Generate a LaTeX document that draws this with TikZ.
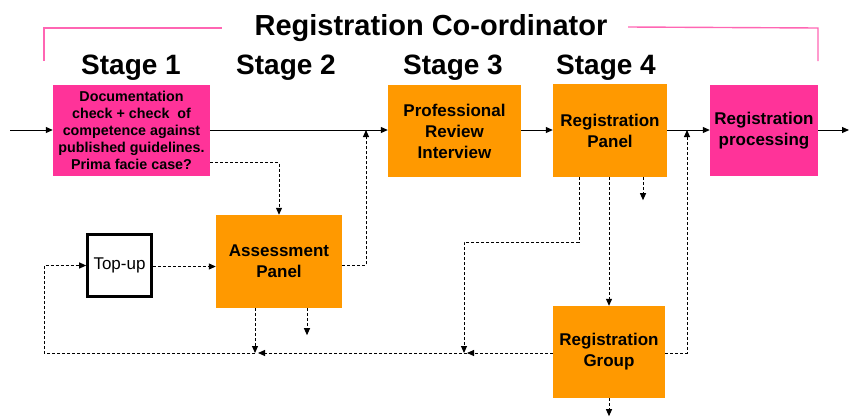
\documentclass[tikz,border=0pt]{standalone}
\usepackage{fontspec}
\setmainfont{Liberation Sans}
\usetikzlibrary{arrows.meta,calc}
\definecolor{stageorange}{HTML}{FF9900}
\definecolor{stagepink}{HTML}{FF3399}
\definecolor{bracketpink}{HTML}{FF66B3}

\begin{document}
\begin{tikzpicture} [x=1pt,y=-1pt,
  box/.style={inner sep=0pt,align=center,font=\bfseries\fontsize{17}{21}\selectfont},
  orangebox/.style={box,fill=stageorange},
  pinkbox/.style={box,fill=stagepink},
  flow/.style={-{Triangle[length=7pt,width=6pt]},line width=1pt},
  dflow/.style={flow,dash pattern=on 3pt off 2pt},
  stagelabel/.style={font=\bfseries\fontsize{28}{32}\selectfont}]
\useasboundingbox (0,0) rectangle (850,418);

% title and bracket
\node [font=\bfseries\fontsize{29}{34}\selectfont] (coord) at (431,28) {Registration Co-ordinator};
\draw [bracketpink, line width=1.4pt] (44,61)--(44,28)--(222,28);
\draw [bracketpink, line width=1.4pt] (628,27)--(818,28)--(818,61);

\node [stagelabel] (stage1) at (131,68) {Stage 1};
\node [stagelabel] (stage2) at (286,68) {Stage 2};
\node [stagelabel] (stage3) at (453,68) {Stage 3};
\node [stagelabel] (stage4) at (606,68) {Stage 4};


% the boxes
\node [pinkbox, minimum width=157pt, minimum height=91pt,
  font=\bfseries\fontsize{14.3}{17}\selectfont] (doc) at (131.5,130.5)
  {Documentation\\check + check~ of\\competence against\\published guidelines.\\Prima facie case?};
\node [orangebox, minimum width=133pt, minimum height=92pt] (prof) at (454.5,131)
  {Professional\\Review\\Interview};
\node [orangebox, minimum width=114pt, minimum height=93pt] (regpanel) at (610,130.5)
  {Registration\\Panel};
\node [pinkbox, minimum width=108pt, minimum height=91pt] (regproc) at (764,130.5)
  {Registration\\processing};
\node [draw, line width=2.6pt, minimum width=64pt, minimum height=62pt, inner sep=0pt,
  font=\fontsize{17}{20}\selectfont] (topup) at (119.5,265.5) {Top-up};
\node [orangebox, minimum width=126pt, minimum height=93pt] (assess) at (279,261.5)
  {Assessment\\Panel};
\node [orangebox, minimum width=112pt, minimum height=92pt] (reggroup) at (609,352)
  {Registration\\Group};

\coordinate (in) at (10,130);
\coordinate (out) at (849,130);
\coordinate (j1) at (366,130);
\coordinate (j2) at (687,130);
\coordinate (m1) at (255,353);
\coordinate (m2) at (464,353);
\coordinate (lc) at (44,353);


% main line
\draw [flow] (in) -- (in -| doc.west);
\draw [flow] (doc.east |- in) -- (prof.west |- in);
\draw [flow] (prof.east |- in) -- (regpanel.west |- in);
\draw [flow] (regpanel.east |- in) -- (regproc.west |- in);
\draw [flow] (regproc.east |- in) -- (out);


% dashed routes
\draw [dflow] ([yshift=-32pt]doc.east) -| (assess.north);
\draw [dflow] ([yshift=-4pt]assess.east) -| (j1);
\draw [dflow] ([yshift=-1pt]topup.east) -- ([yshift=-1pt]topup.east -| assess.west);
\draw [dflow] ([xshift=-24pt]assess.south) -- (m1);
\draw [dflow] ([xshift=28pt]assess.south) -- ++(0,27);

\draw [dflow] ([xshift=-31pt]regpanel.south) -- ++(0,65) -| (m2);
\draw [dflow] (reggroup.north |- regpanel.south) -- (reggroup.north);
\draw [dflow] ([xshift=33pt]regpanel.south) -- ++(0,23);

\draw [dflow] ([yshift=-1pt]reggroup.east) -| (j2);
\draw [dflow] (reggroup.south) -- ++(0,18);

\draw [dflow] ([yshift=-1pt]reggroup.west) -- ([xshift=3pt]m2);
\draw [dflow] ([xshift=3pt]m2) -- ([xshift=3pt]m1);
\draw [dflow] (m1) -- (lc) |- (topup.west);

\end{tikzpicture}
\end{document}
